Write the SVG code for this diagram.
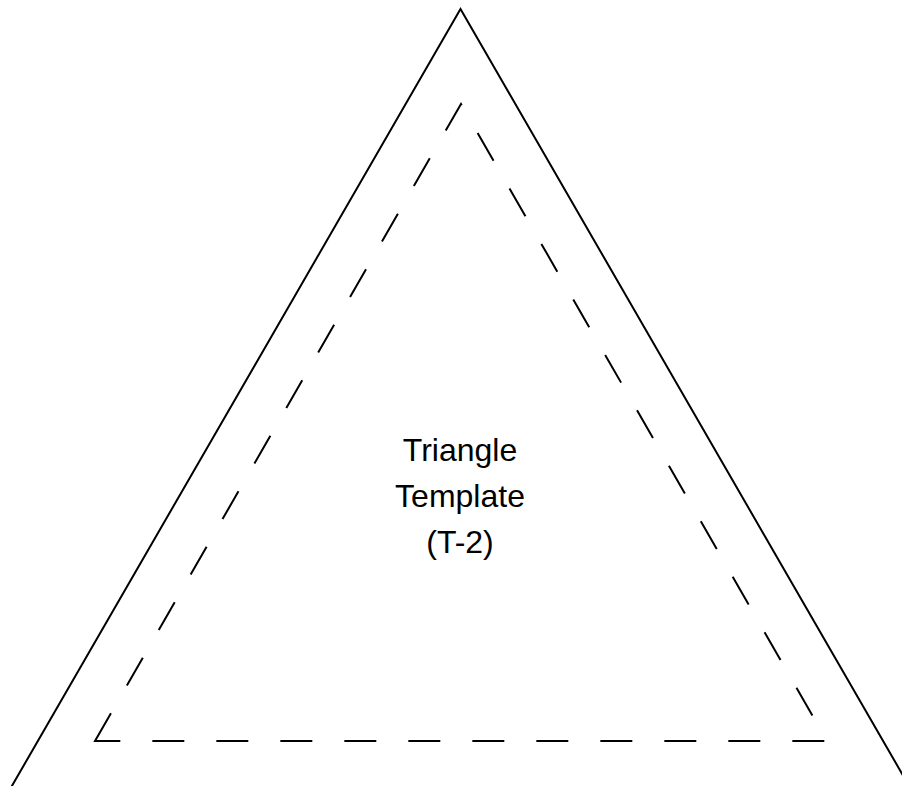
<svg xmlns="http://www.w3.org/2000/svg" width="902" height="786" viewBox="0 0 902 786">
  <style>
    .outer { fill: none; stroke: #000; stroke-width: 2; stroke-linejoin: miter; stroke-miterlimit: 20; }
    .inner { fill: none; stroke: #000; stroke-width: 2; stroke-dasharray: 32 32; stroke-linejoin: miter; stroke-miterlimit: 20; }
    .label { font-family: "Liberation Sans", Arial, sans-serif; font-size: 32px; fill: #000; text-anchor: middle; }
  </style>
  <rect width="902" height="786" fill="#fff"/>
  <g id="outer-triangle">
    <polyline class="outer" points="3.8,800 460.5,9 917.2,800"/>
  </g>
  <g id="inner-triangle">
    <polygon class="inner" points="95,741 461,104 827,741"/>
  </g>
  <g id="label">
    <text class="label" x="460" y="461">Triangle</text>
    <text class="label" x="460" y="507">Template</text>
    <text class="label" x="460" y="553">(T-2)</text>
  </g>
</svg>
